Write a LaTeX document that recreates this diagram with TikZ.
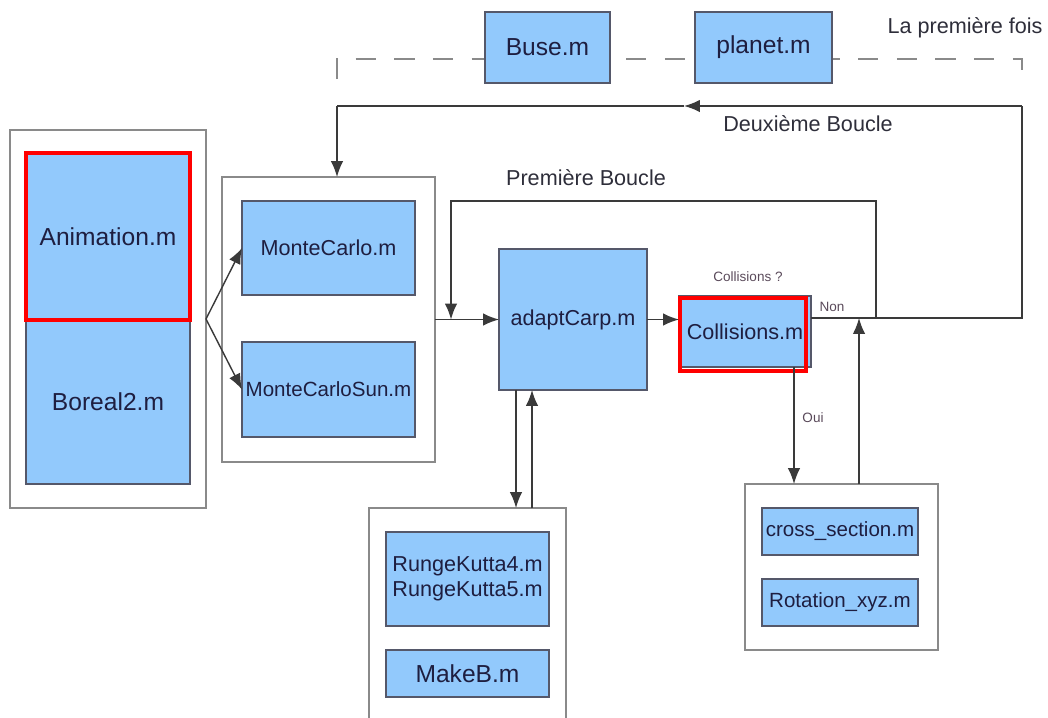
\documentclass[tikz,border=0pt]{standalone}
\usepackage{fontspec}
\setmainfont{Liberation Sans}
\usetikzlibrary{positioning}
\usetikzlibrary{calc,arrows.meta}
\definecolor{boxfill}{HTML}{92C9FC}
\definecolor{boxline}{HTML}{55586A}
\definecolor{grpline}{HTML}{8A8A8A}
\definecolor{txtcol}{HTML}{1E1E40}
\definecolor{lblcol}{HTML}{2E2E3A}
\definecolor{smallcol}{HTML}{5A4A5A}
\definecolor{wirecol}{HTML}{3A3A3A}

\begin{document}
\begin{tikzpicture}[x=0.02cm,y=-0.02cm,inner sep=0,outer sep=0,
    every node/.style={text=txtcol},
    file/.style={draw=boxline,line width=0.7pt,fill=boxfill,align=center,font=\fontsize{12.3}{14.5}\selectfont},
    smallfile/.style={file,font=\fontsize{11.7}{14}\selectfont},
    bigfile/.style={file,font=\fontsize{14}{16}\selectfont},
    group/.style={draw=grpline,line width=0.8pt,fill=white},
    hilite/.style={draw=red,line width=2.8pt},
    lbl/.style={font=\fontsize{12.3}{14.5}\selectfont,text=lblcol},
    smalllbl/.style={font=\fontsize{7.7}{9}\selectfont,text=smallcol},
    wire/.style={draw=wirecol,line width=0.8pt},
    arr/.style={wire,-{Latex[length=9pt,width=7pt]}}]
    \useasboundingbox (0,0) rectangle (1048,717);
    \clip (0,0) rectangle (1048,717);
    % dashed path of the first pass, below the two files
    \coordinate (dashBL) at (337,79);
    \coordinate (dashTL) at (337,59);
    \coordinate (dashTR) at (1022,59);
    \coordinate (dashBR) at (1022,79);
    \draw[wire,draw=grpline,dash pattern=on 11.5pt off 10.5pt] (dashBL) -- (dashTL) -- (dashTR) -- (dashBR);
    \node[bigfile,minimum width=2.50cm,minimum height=1.42cm] (buse) at (547.5,47.5) {Buse.m};
    \node[bigfile,minimum width=2.74cm,minimum height=1.42cm] (planet) at (763.5,47.5) {planet.m};
    % groups of files
    \node[group,minimum width=3.92cm,minimum height=7.56cm] (grpA) at (108,319) {};
    \node[bigfile,minimum width=3.28cm,minimum height=3.28cm] (boreal) at (108,402) {Boreal2.m};
    \node[bigfile,hilite,minimum width=3.28cm,minimum height=3.34cm] (anim) at (108,236.5) {Animation.m};
    \node[group,minimum width=4.26cm,minimum height=5.70cm] (grpB) at (328.5,319.5) {};
    \node[file,minimum width=3.46cm,minimum height=1.88cm] (MC) at (328.5,248) {MonteCarlo.m};
    \node[smallfile,minimum width=3.46cm,minimum height=1.90cm] (MCS) at (328.5,389.5) {MonteCarloSun.m};
    \node[file,minimum width=2.96cm,minimum height=2.82cm] (adapt) at (573,319.5) {adaptCarp.m};
    \node[file,minimum width=2.64cm,minimum height=1.42cm] (coll) at (745,331.5) {Collisions.m};
    \node[hilite,minimum width=2.52cm,minimum height=1.46cm] (collred) at (743,334.5) {};
    \node[group,minimum width=3.94cm,minimum height=4.64cm] (grpC) at (467.5,624) {};
    \node[file,minimum width=3.26cm,minimum height=1.88cm] (RK) at (467.5,579) {RungeKutta4.m\\RungeKutta5.m};
    \node[bigfile,minimum width=3.26cm,minimum height=0.94cm] (makeB) at (467.5,673.5) {MakeB.m};
    \node[group,minimum width=3.86cm,minimum height=3.32cm] (grpD) at (841.5,567) {};
    \node[smallfile,minimum width=3.12cm,minimum height=0.94cm] (cross) at (840,531.5) {cross\_section.m};
    \node[smallfile,minimum width=3.12cm,minimum height=0.94cm] (rot) at (840,602.5) {Rotation\_xyz.m};
    % labels
    \node[lbl] (firstTime) at (965,28) {La première fois};
    \node[lbl] (loopTwoLbl) at (808,124) {Deuxième Boucle};
    \node[lbl] (loopOneLbl) at (586,178) {Première Boucle};
    \node[smalllbl] (collQ) at (748,277) {Collisions ?};
    \node[smalllbl] (nonLbl) at (832,307) {Non};
    \node[smalllbl] (ouiLbl) at (813,418) {Oui};
    % corners of the loops
    \coordinate (nonR) at (1022,318);
    \coordinate (topR) at (1022,106);
    \coordinate (topMid) at (684,106);
    \coordinate (topL) at (337,106);
    \coordinate (loopR) at (876,318);
    \coordinate (loopRT) at (876,201);
    \coordinate (loopLT) at (451,201);
    \coordinate (loopLB) at (451,319.5);
    \coordinate (upEnd) at (859,318);
    \coordinate (rkDown) at ($(adapt.south)+(-57,0)$);
    \coordinate (rkUp) at ($(adapt.south)+(-41,0)$);
    \coordinate (ouiTop) at ($(coll.south)+(49,0)$);
    % connectors
    \draw[arr] (grpA.east) -- (MC.west);
    \draw[arr] (grpA.east) -- (MCS.west);
    \draw[arr] (grpB.east) -- (adapt.west);
    \draw[arr] (adapt.east) -- (adapt.east -| coll.west);
    \draw[wire] (coll.east |- nonR) -- (nonR) -- (topR);
    \draw[arr] (topR) -- (topMid);
    \draw[wire] (topMid) -- (topL);
    \draw[arr] (topL) -- (topL |- grpB.north);
    \draw[arr] (loopR) -- (loopRT) -- (loopLT) -- (loopLB);
    \draw[arr] (rkDown) -- (rkDown |- grpC.north);
    \draw[arr] (rkUp |- grpC.north) -- (rkUp);
    \draw[arr] (ouiTop) -- (ouiTop |- grpD.north);
    \draw[arr] (upEnd |- grpD.north) -- (upEnd);
\end{tikzpicture}
\end{document}
